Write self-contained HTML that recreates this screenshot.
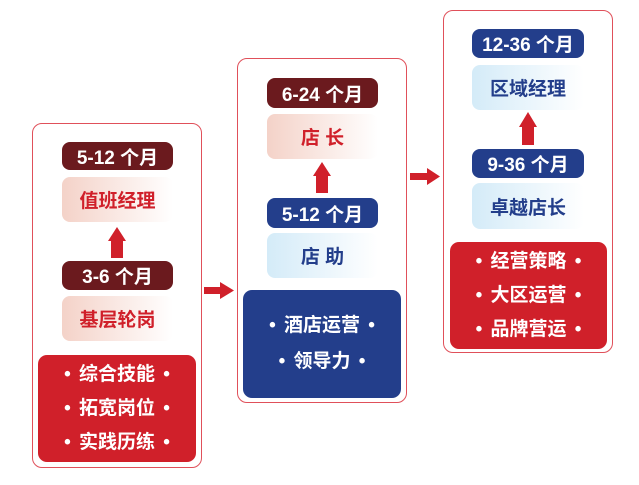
<!DOCTYPE html>
<html><head><meta charset="utf-8"><style>
body{margin:0;width:639px;height:485px;background:#fff;position:relative;overflow:hidden;font-family:"Liberation Sans","Noto Sans CJK SC",sans-serif;font-weight:bold}
div{position:absolute;box-sizing:border-box}
.panel{border:1.5px solid #e0505a;border-radius:10px;background:#fff}
.hd{border-radius:8px;color:#fff;font-size:19px;text-align:center;display:flex;align-items:center;justify-content:center}
.dr{background:#6b1a1e}.bl{background:#233e8b}
.bx{border-radius:8px;font-size:19px;display:flex;align-items:center;justify-content:center}
.pk{background:linear-gradient(90deg,#f4d2c8,#fff);color:#d0202a}
.lb{background:linear-gradient(90deg,#d4ebf8,#fff);color:#233e8b}
.big{border-radius:9px;color:#fff;font-size:19px;text-align:center;display:flex;flex-direction:column;justify-content:center;word-spacing:3px}
.big span{display:block}
.red{background:#d0202a}.blue{background:#233e8b}
</style></head><body>

<div class="panel" style="left:32px;top:123px;width:170px;height:345px"></div>
<div class="hd dr" style="left:62px;top:142px;width:111px;height:28px">5-12 个月</div>
<div class="bx pk" style="left:62px;top:177px;width:111px;height:45px">值班经理</div>
<svg style="position:absolute;left:108px;top:227px" width="18" height="31"><polygon points="9,0 18,14 15,14 15,31 3,31 3,14 0,14" fill="#d0202a"/></svg>
<div class="hd dr" style="left:62px;top:261px;width:111px;height:29px">3-6 个月</div>
<div class="bx pk" style="left:62px;top:296px;width:111px;height:45px">基层轮岗</div>
<div class="big red" style="left:38px;top:355px;width:158px;height:107px;line-height:34px"><span>• 综合技能 •</span><span>• 拓宽岗位 •</span><span>• 实践历练 •</span></div>

<svg style="position:absolute;left:204px;top:282px" width="30" height="17"><polygon points="0,5 16,5 16,0 30,8.5 16,17 16,12 0,12" fill="#d0202a"/></svg>

<div class="panel" style="left:237px;top:58px;width:170px;height:345px"></div>
<div class="hd dr" style="left:267px;top:78px;width:111px;height:30px">6-24 个月</div>
<div class="bx pk" style="left:267px;top:114px;width:111px;height:45px">店 长</div>
<svg style="position:absolute;left:313px;top:162px" width="18" height="31"><polygon points="9,0 18,14 15,14 15,31 3,31 3,14 0,14" fill="#d0202a"/></svg>
<div class="hd bl" style="left:267px;top:198px;width:111px;height:30px">5-12 个月</div>
<div class="bx lb" style="left:267px;top:233px;width:111px;height:45px">店 助</div>
<div class="big blue" style="left:243px;top:290px;width:158px;height:108px;line-height:36px"><span>• 酒店运营 •</span><span>• 领导力 •</span></div>

<svg style="position:absolute;left:410px;top:168px" width="30" height="17"><polygon points="0,5 17,5 17,0 30,8.5 17,17 17,12 0,12" fill="#d0202a"/></svg>

<div class="panel" style="left:443px;top:10px;width:170px;height:343px"></div>
<div class="hd bl" style="left:472px;top:29px;width:112px;height:29px">12-36 个月</div>
<div class="bx lb" style="left:472px;top:65px;width:112px;height:45px">区域经理</div>
<svg style="position:absolute;left:519px;top:112px" width="18" height="33"><polygon points="9,0 18,15 15,15 15,33 3,33 3,15 0,15" fill="#d0202a"/></svg>
<div class="hd bl" style="left:472px;top:149px;width:112px;height:29px">9-36 个月</div>
<div class="bx lb" style="left:472px;top:183px;width:112px;height:46px">卓越店长</div>
<div class="big red" style="left:450px;top:242px;width:157px;height:107px;line-height:34px"><span>• 经营策略 •</span><span>• 大区运营 •</span><span>• 品牌营运 •</span></div>

</body></html>
